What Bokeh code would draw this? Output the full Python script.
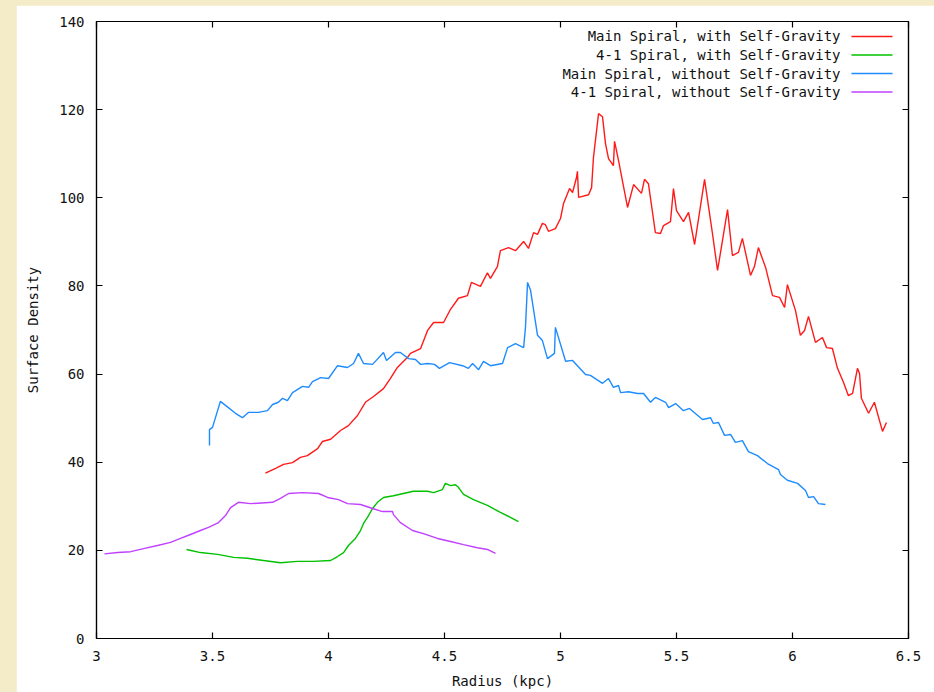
from bokeh.plotting import figure
from bokeh.layouts import column
from bokeh.models import Range1d, FixedTicker, LinearAxis, ColumnDataSource, NumeralTickFormatter
from bokeh.embed import file_html
from bokeh.resources import INLINE
from bokeh.core.properties import value

# ---------------- data ----------------
red_x = [3.728, 3.772, 3.806, 3.845, 3.879, 3.909, 3.953, 3.974, 4.009, 4.052, 4.086, 4.125,
         4.159, 4.194, 4.237, 4.267, 4.297, 4.341, 4.353, 4.397, 4.427, 4.453, 4.496, 4.526,
         4.560, 4.599, 4.616, 4.655, 4.685, 4.698, 4.728, 4.741, 4.776, 4.806, 4.841, 4.862,
         4.884, 4.901, 4.922, 4.935, 4.948, 4.978, 5.000, 5.013, 5.039, 5.052, 5.069, 5.073,
         5.078, 5.121, 5.134, 5.142, 5.164, 5.181, 5.194, 5.207, 5.228, 5.233, 5.250, 5.289,
         5.315, 5.349, 5.362, 5.379, 5.409, 5.431, 5.444, 5.474, 5.487, 5.500, 5.530, 5.552,
         5.578, 5.621, 5.655, 5.677, 5.720, 5.741, 5.767, 5.784, 5.819, 5.836, 5.853, 5.884,
         5.914, 5.944, 5.966, 5.978, 6.013, 6.034, 6.052, 6.069, 6.099, 6.129, 6.147, 6.172,
         6.194, 6.220, 6.241, 6.259, 6.280, 6.289, 6.297, 6.328, 6.353, 6.388, 6.405]
red_y = [37.5, 38.6, 39.5, 39.9, 41.1, 41.5, 43.1, 44.7, 45.2, 47.2, 48.3, 50.6,
         53.6, 54.9, 56.7, 59.0, 61.5, 63.8, 64.7, 65.8, 69.9, 71.7, 71.7, 74.7,
         77.2, 77.8, 80.8, 79.9, 83.0, 81.7, 84.4, 88.0, 88.7, 88.0, 90.1, 88.5,
         92.1, 91.7, 94.2, 93.9, 92.4, 93.0, 95.3, 98.7, 102.1, 101.2, 104.6, 106.0,
         100.1, 100.7, 102.3, 109.1, 119.1, 118.4, 112.3, 108.9, 107.3, 112.8, 108.5, 97.8,
         103.0, 101.0, 104.2, 103.2, 92.1, 91.9, 93.7, 94.6, 102.1, 97.1, 94.6, 96.7,
         89.4, 104.2, 91.9, 83.5, 97.3, 86.9, 87.6, 90.8, 82.4, 84.4, 88.7, 84.2,
         77.8, 77.4, 75.1, 80.3, 74.4, 68.8, 69.9, 73.1, 67.2, 68.3, 66.0, 65.8,
         61.3, 58.1, 55.1, 55.6, 61.3, 60.1, 54.5, 51.1, 53.6, 47.0, 49.0]

green_x = [3.388, 3.448, 3.522, 3.591, 3.651, 3.720, 3.793, 3.866, 3.935, 4.009, 4.039, 4.065,
           4.086, 4.116, 4.138, 4.151, 4.168, 4.190, 4.211, 4.237, 4.280, 4.323, 4.366, 4.427,
           4.453, 4.491, 4.504, 4.526, 4.547, 4.560, 4.582, 4.625, 4.685, 4.741, 4.784, 4.819]
green_y = [20.2, 19.5, 19.1, 18.4, 18.2, 17.7, 17.2, 17.5, 17.5, 17.7, 18.6, 19.5,
           21.1, 22.7, 24.5, 26.1, 27.5, 29.5, 30.9, 32.0, 32.4, 32.9, 33.4, 33.4,
           33.1, 33.8, 35.2, 34.7, 34.9, 34.3, 32.7, 31.5, 30.2, 28.6, 27.5, 26.5]

blue_x = [3.487, 3.487, 3.500, 3.534, 3.556, 3.599, 3.629, 3.655, 3.698, 3.737, 3.759, 3.784,
          3.802, 3.823, 3.845, 3.888, 3.914, 3.931, 3.966, 4.000, 4.039, 4.082, 4.108, 4.129,
          4.151, 4.190, 4.237, 4.250, 4.289, 4.310, 4.345, 4.375, 4.397, 4.427, 4.457, 4.478,
          4.522, 4.578, 4.603, 4.621, 4.647, 4.668, 4.698, 4.750, 4.772, 4.806, 4.841, 4.849,
          4.858, 4.871, 4.901, 4.922, 4.944, 4.974, 4.978, 5.022, 5.052, 5.108, 5.129, 5.181,
          5.207, 5.228, 5.250, 5.259, 5.293, 5.332, 5.358, 5.388, 5.409, 5.453, 5.466, 5.496,
          5.530, 5.556, 5.612, 5.647, 5.659, 5.681, 5.707, 5.733, 5.754, 5.784, 5.810, 5.849,
          5.892, 5.940, 5.948, 5.978, 6.022, 6.056, 6.069, 6.091, 6.112, 6.142]
blue_y = [43.8, 47.4, 47.9, 53.8, 52.9, 51.1, 50.1, 51.3, 51.3, 51.7, 53.1, 53.6,
          54.5, 54.0, 55.8, 57.2, 57.0, 58.3, 59.2, 59.0, 61.9, 61.5, 62.4, 64.7,
          62.4, 62.2, 64.9, 63.1, 64.9, 64.9, 63.5, 63.3, 62.2, 62.4, 62.2, 61.3,
          62.6, 61.9, 61.3, 62.4, 61.0, 62.9, 61.9, 62.4, 66.0, 66.9, 66.0, 70.6,
          80.8, 79.0, 68.8, 67.6, 63.5, 64.7, 70.6, 62.9, 63.1, 59.9, 59.7, 57.9,
          59.0, 57.0, 57.4, 55.8, 56.0, 55.6, 55.6, 53.6, 54.7, 53.6, 52.4, 53.3,
          51.7, 52.2, 49.7, 50.1, 48.8, 49.0, 46.1, 46.3, 44.5, 44.9, 42.4, 41.5,
          39.7, 38.3, 37.2, 35.9, 35.2, 33.6, 32.0, 32.2, 30.6, 30.4]

purple_x = [3.034, 3.091, 3.147, 3.203, 3.263, 3.319, 3.362, 3.405, 3.448, 3.483, 3.526, 3.556,
            3.578, 3.612, 3.664, 3.759, 3.793, 3.828, 3.888, 3.957, 3.996, 4.043, 4.082, 4.138,
            4.190, 4.233, 4.276, 4.280, 4.310, 4.362, 4.409, 4.470, 4.526, 4.582, 4.642, 4.685,
            4.720]
purple_y = [19.2, 19.5, 19.7, 20.4, 21.1, 21.8, 22.7, 23.6, 24.5, 25.2, 26.3, 27.9,
            29.7, 30.9, 30.6, 30.9, 31.8, 32.9, 33.1, 32.9, 32.0, 31.5, 30.6, 30.4,
            29.5, 28.8, 28.8, 28.1, 26.3, 24.5, 23.8, 22.7, 22.0, 21.3, 20.6, 20.2,
            19.3]

series_labels = ["Main Spiral, with Self-Gravity", "4-1 Spiral, with Self-Gravity",
                 "Main Spiral, without Self-Gravity", "4-1 Spiral, without Self-Gravity"]
series_colors = ["#ff1a1a", "#00c000", "#1e8cff", "#c040ff"]

x_ticks = [3, 3.5, 4, 4.5, 5, 5.5, 6, 6.5]
y_ticks = [0, 20, 40, 60, 80, 100, 120, 140]

FONT = "DejaVu Sans Mono"
FS = "14px"

p = figure(width=918, height=687, output_backend="svg", toolbar_location=None,
           x_range=Range1d(3, 6.5), y_range=Range1d(0, 140),
           min_border_left=80, min_border_top=16, min_border_right=26, min_border_bottom=54,
           x_axis_label="Radius (kpc)", y_axis_label="Surface Density")
p.grid.visible = False
p.outline_line_color = "black"
p.outline_line_width = 1.2
p.background_fill_color = "white"
p.border_fill_color = "white"

for ax in (p.xaxis[0], p.yaxis[0]):
    ax.axis_line_color = "black"
    ax.axis_line_width = 1.2
    ax.major_tick_in = 6
    ax.major_tick_out = 0
    ax.major_tick_line_color = "black"
    ax.major_tick_line_width = 1.2
    ax.minor_tick_line_color = None
    ax.major_label_text_font = FONT
    ax.major_label_text_font_size = FS
    ax.major_label_text_color = "#111111"
    ax.axis_label_text_font = FONT
    ax.axis_label_text_font_size = FS
    ax.axis_label_text_font_style = "normal"
    ax.axis_label_text_color = "#111111"

p.xaxis[0].ticker = FixedTicker(ticks=x_ticks)
p.xaxis[0].formatter = NumeralTickFormatter(format="0.[0]")
p.xaxis[0].major_label_standoff = 12
p.xaxis[0].axis_label_standoff = 9
p.yaxis[0].ticker = FixedTicker(ticks=y_ticks)
p.yaxis[0].major_label_standoff = 12
p.yaxis[0].axis_label_standoff = 15

# mirrored ticks on top and right (no labels)
for loc, tk in (("above", x_ticks), ("right", y_ticks)):
    ax = LinearAxis(ticker=FixedTicker(ticks=tk), major_label_text_font_size="0px",
                    major_label_text_color=None,
                    major_tick_in=6, major_tick_out=0, major_label_standoff=0,
                    minor_tick_line_color=None, axis_line_color="black",
                    axis_line_width=1.2, major_tick_line_width=1.2)
    p.add_layout(ax, loc)

# data lines
for xs, ys, c in ((red_x, red_y, series_colors[0]), (green_x, green_y, series_colors[1]),
                  (blue_x, blue_y, series_colors[2]), (purple_x, purple_y, series_colors[3])):
    p.line(xs, ys, line_color=c, line_width=1.4)

# gnuplot-style key: text right-aligned, sample line to its right
key_text_x = 6.207
key_line_x0, key_line_x1 = 6.254, 6.431
key_top, key_step = 136.6, 4.2
key_y = [key_top - i * key_step for i in range(len(series_labels))]
key_src = ColumnDataSource(dict(x=[key_text_x] * 4, y=key_y, text=series_labels,
                                x0=[key_line_x0] * 4, x1=[key_line_x1] * 4, color=series_colors))
p.text(x="x", y="y", text="text", source=key_src, text_align="right", text_baseline="middle",
       text_font=value(FONT), text_font_size=FS, text_color="#111111")
p.segment(x0="x0", y0="y", x1="x1", y1="y", source=key_src, line_color="color", line_width=1.6)

page = column(p, styles={"background-color": "#f4ebc8", "padding": "5px 0px 0px 16px"})

open("out.html", "w").write(file_html(page, INLINE))
